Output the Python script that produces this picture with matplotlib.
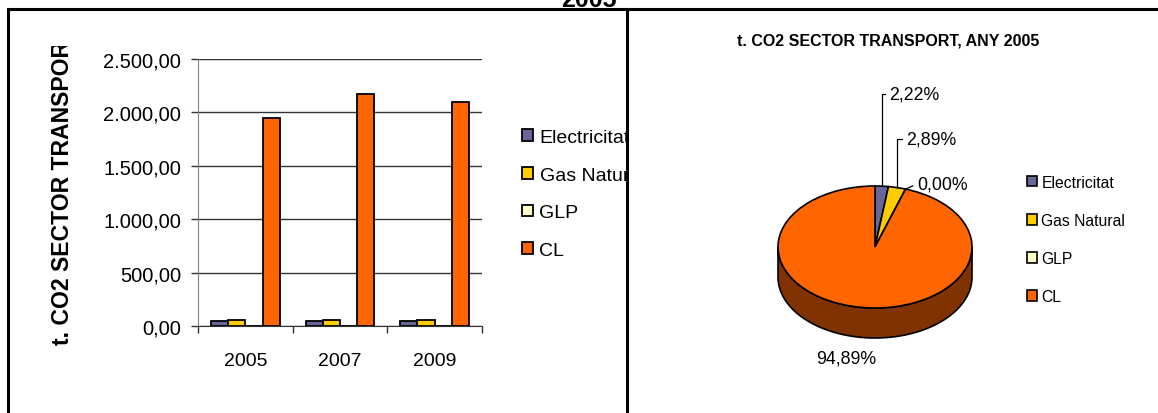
import numpy as np
import matplotlib
matplotlib.use("Agg")
import matplotlib.pyplot as plt
from matplotlib.patches import Rectangle, Polygon
from matplotlib.ticker import FuncFormatter
from matplotlib.transforms import Bbox

plt.rcParams['font.family'] = ['Liberation Sans', 'DejaVu Sans']

# data
years = ['2005', '2007', '2009']
series = ['Electricitat', 'Gas Natural', 'GLP', 'CL']
elec = [45.5, 45.0, 45.0]
gas_nat = [59.0, 60.0, 58.0]
glp = [0.0, 0.0, 0.0]
cl = [1944.0, 2169.0, 2094.0]
pie_pct = [2.22, 2.89, 0.00, 94.89]
pie_labels = ['2,22%', '2,89%', '0,00%', '94,89%']
colors = ['#666699', '#FFCC00', '#FFFFCC', '#FF6600']

W, H = 1158, 414
fig = plt.figure(figsize=(W / 100, H / 100), dpi=100)


def px_axes(x0, y0, x1, y1, **kw):
    # axes from pixel box (origin top-left)
    return fig.add_axes([x0 / W, 1 - y1 / H, (x1 - x0) / W, (y1 - y0) / H], **kw)


def eu(v, pos=None):
    s = f'{v:,.2f}'
    return s.replace(',', 'X').replace('.', ',').replace('X', '.')


# ---- bar chart ----
ax = px_axes(198, 60, 482, 327)
ax.set_zorder(1)
x = np.arange(len(years))
w = 1 / (len(series) + 1.5)
for i, vals in enumerate([elec, gas_nat, glp, cl]):
    ax.bar(x + (i - 1.5) * w, vals, w, color=colors[i], edgecolor='black',
           linewidth=1.3, label=series[i], zorder=3)
ax.set_xlim(-0.5, 2.5)
ax.set_ylim(0, 2500)
ax.set_yticks(np.arange(0, 2501, 500))
ax.yaxis.set_major_formatter(FuncFormatter(eu))
ax.grid(axis='y', color='#333333', linewidth=1, zorder=0)
ax.set_xticks(x)
ax.set_xticklabels(years)
ax.set_xticks(np.arange(-0.5, 3, 1), minor=True)
ax.tick_params(axis='x', which='major', length=0, pad=19, labelsize=14)
ax.tick_params(axis='x', which='minor', length=5, width=1, color='#333333')
ax.tick_params(axis='y', length=5, width=1, color='#333333', pad=7, labelsize=14.5)
for s in ['top', 'right']:
    ax.spines[s].set_visible(False)
ax.spines['left'].set_color('#808080')
ax.spines['bottom'].set_color('#333333')
ax.legend(loc='center left', bbox_to_anchor=(522 / W, 1 - 195 / H),
          bbox_transform=fig.transFigure, frameon=False, fontsize=14,
          handlelength=0.55, handleheight=0.55, handletextpad=0.35,
          labelspacing=1.07, borderpad=0, borderaxespad=0)

# ---- overlay: right panel cover, frame lines, clipped titles ----
ov = px_axes(0, 0, W, H)
ov.set_zorder(5)
ov.set_xlim(0, W)
ov.set_ylim(H, 0)
ov.axis('off')
ov.patch.set_alpha(0)
ov.add_patch(Rectangle((627, 9.5), W - 627, H - 9.5, facecolor='white',
                       edgecolor='none', zorder=1))
ov.plot([7.5, W], [9.5, 9.5], color='black', lw=2.2, zorder=10, solid_capstyle='projecting')
ov.plot([7.5, 7.5], [9.5, H], color='black', lw=2.2, zorder=10)
ov.plot([627, 627], [9.5, H], color='black', lw=2.2, zorder=10)
ov.text(589, 7, '2005', ha='center', va='baseline', fontsize=18, fontweight='bold')
yl = ov.text(63, 345, 't. CO2 SECTOR TRANSPORT', rotation=90, ha='center',
             va='bottom', fontsize=16.6, fontweight='bold', clip_on=True)
yl.set_clip_box(Bbox.from_extents(0, 0, W, H - 47))
ov.text(888, 41, 't. CO2 SECTOR TRANSPORT, ANY 2005', ha='center', va='center',
        fontsize=11.5, fontweight='bold')

# ---- 3D-looking pie ----
rx, ry, depth = 97, 61, 30
cx, cy = 875, 248
xl, yt, yb = 1.5, 1.25, 1.75
pa = px_axes(cx - xl * rx, cy - yt * ry, cx + xl * rx, cy + yb * ry)
pa.set_zorder(6)
pa.patch.set_alpha(0)
wedges, _ = pa.pie(pie_pct, colors=colors, startangle=90, counterclock=False,
                   wedgeprops=dict(edgecolor='black', linewidth=1.2), radius=1)
for wd in wedges:
    wd.set_zorder(3)
d = depth / ry
for wd in wedges:
    t1, t2 = wd.theta1, wd.theta2
    for k in (-360, 0, 360):
        a, b = max(t1 + k, 180), min(t2 + k, 360)
        if b > a:
            t = np.radians(np.linspace(a, b, 120))
            top = np.column_stack([np.cos(t), np.sin(t)])
            bot = np.column_stack([np.cos(t[::-1]), np.sin(t[::-1]) - d])
            fc = np.array(matplotlib.colors.to_rgb(wd.get_facecolor())) * 0.5
            pa.add_patch(Polygon(np.vstack([top, bot]), closed=True, facecolor=fc,
                                 edgecolor='black', linewidth=1.2, zorder=2))
pa.set_aspect('auto')
pa.set_xlim(-xl, xl)
pa.set_ylim(-yb, yt)
pa.axis('off')


def fig_px(px, py):
    return (px, H - py)


mids = [np.radians((wd.theta1 + wd.theta2) / 2) for wd in wedges]
label_pos = [(889, 95), (906, 140), (917, 185)]
for i in range(3):
    edge = (np.cos(mids[i]), np.sin(mids[i]))
    style = 'angle,angleA=0,angleB=90,rad=0' if i < 2 else 'arc3'
    pa.annotate(pie_labels[i], xy=edge, xycoords='data',
                xytext=fig_px(*label_pos[i]), textcoords='figure pixels',
                ha='left', va='center', fontsize=12.8,
                arrowprops=dict(arrowstyle='-', color='black', lw=0.9,
                                connectionstyle=style, relpos=(0, 0.5),
                                shrinkA=1, shrinkB=0))
pa.annotate(pie_labels[3], xy=fig_px(846, 359), xycoords='figure pixels',
            ha='center', va='center', fontsize=12.8)

handles = [Rectangle((0, 0), 1, 1, facecolor=c, edgecolor='black', lw=1.2) for c in colors]
pa.legend(handles, series, loc='center left', bbox_to_anchor=(1027 / W, 1 - 240.5 / H),
          bbox_transform=fig.transFigure, frameon=False, fontsize=11.3,
          handlelength=0.62, handleheight=0.62, handletextpad=0.3,
          labelspacing=1.47, borderpad=0, borderaxespad=0)

fig.savefig('out.png', dpi=100)
